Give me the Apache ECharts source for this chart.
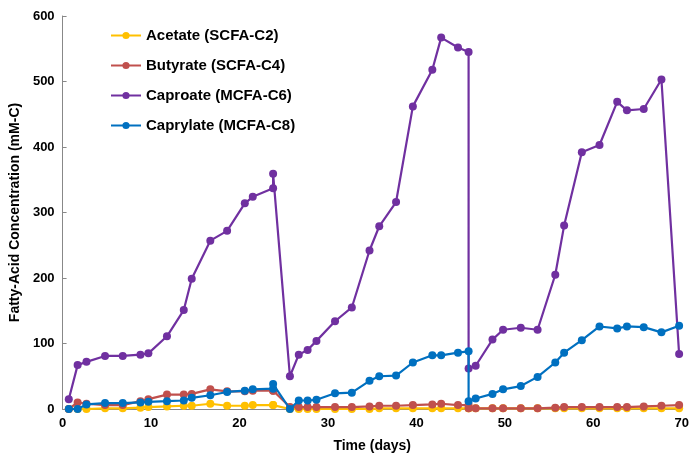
<!DOCTYPE html>
<html><head><meta charset="utf-8">
<script src="https://cdn.jsdelivr.net/npm/echarts@6/dist/echarts.min.js"></script>
<style>html,body{margin:0;padding:0;background:#fff}#c{width:692px;height:470px}</style>
</head><body><div id="c"></div>
<script>
// sampling days
const days = [0.7,1.7,2.7,4.8,6.8,8.8,9.7,11.8,13.7,14.6,16.7,18.6,20.6,21.5,23.8,23.8,25.7,26.7,27.7,28.7,30.8,32.7,34.7,35.8,37.7,39.6,41.8,42.8,44.7,45.9,45.9,46.7,48.6,49.8,51.8,53.7,55.7,56.7,58.7,60.7,62.7,63.8,65.7,67.7,69.7];
const acetate   = [0,0,0,1,1,2,3,4,5,5,8,5,5,6,6,6,0,0,0,0,0,0,0,1,1,1,1,1,1,1,1,1,1,1,1,1,1,1,1,1,1,1,1,1,1];
const butyrate  = [0,10,8,6,6,12,15,22,22,23,30,27,27,28,28,28,3,3,3,3,3,3,4,5,5,6,7,8,6,6,1,1,1,1,1,1,2,3,3,3,3,3,4,5,6];
const caproate  = [15,67,72,81,81,83,85,111,151,199,257,272,314,324,337,359,50,83,90,104,134,155,242,279,316,462,518,567,552,545,62,66,106,121,124,121,205,280,392,403,469,456,458,503,84];
const caprylate = [0,0,7,9,9,10,11,12,13,17,21,26,28,30,31,38,0,13,13,14,24,25,43,50,51,71,82,82,86,88,12,16,23,30,35,49,71,86,105,126,123,126,125,117,127];
const names = ["Acetate (SCFA-C2)","Butyrate (SCFA-C4)","Caproate (MCFA-C6)","Caprylate (MCFA-C8)"];
const colors = ["#FFC000","#C0504D","#7030A0","#0070C0"];

const chart = echarts.init(document.getElementById("c"));
const pair = arr => days.map((d, i) => [d, arr[i]]);
const font = "Liberation Sans";
chart.setOption({
  backgroundColor: "#fff",
  textStyle: { fontFamily: font },
  legend: {
    orient: "vertical", left: 105, top: 23, itemGap: 15,
    itemWidth: 30, itemHeight: 9,
    textStyle: { fontSize: 15, fontWeight: "bold", color: "#000", fontFamily: font },
    data: names
  },
  grid: { left: 56, right: 9, top: 16, bottom: 61 },
  xAxis: {
    type: "value", min: 0, max: 70, interval: 10,
    name: "Time (days)", nameLocation: "middle", nameGap: 30,
    nameTextStyle: { fontSize: 14, fontWeight: "bold", color: "#000" },
    axisLine: { lineStyle: { color: "#888" } },
    axisTick: { show: false },
    axisLabel: { fontSize: 13, fontWeight: "bold", color: "#000" },
    splitLine: { show: false }
  },
  yAxis: {
    type: "value", min: 0, max: 600, interval: 100,
    name: "Fatty-Acid Concentration (mM-C)", nameLocation: "middle", nameGap: 38,
    nameTextStyle: { fontSize: 14, fontWeight: "bold", color: "#000" },
    axisLine: { show: true, lineStyle: { color: "#888" } },
    axisTick: { show: true, inside: true, length: 4, lineStyle: { color: "#888" } },
    axisLabel: { fontSize: 13, fontWeight: "bold", color: "#000" },
    splitLine: { show: false }
  },
  series: [acetate, butyrate, caproate, caprylate].map((arr, i) => ({
    name: names[i], type: "line", data: pair(arr),
    symbol: "circle", symbolSize: 8,
    lineStyle: { width: 2.2, color: colors[i] },
    itemStyle: { color: colors[i] },
    z: i + 2
  }))
});
</script></body></html>
